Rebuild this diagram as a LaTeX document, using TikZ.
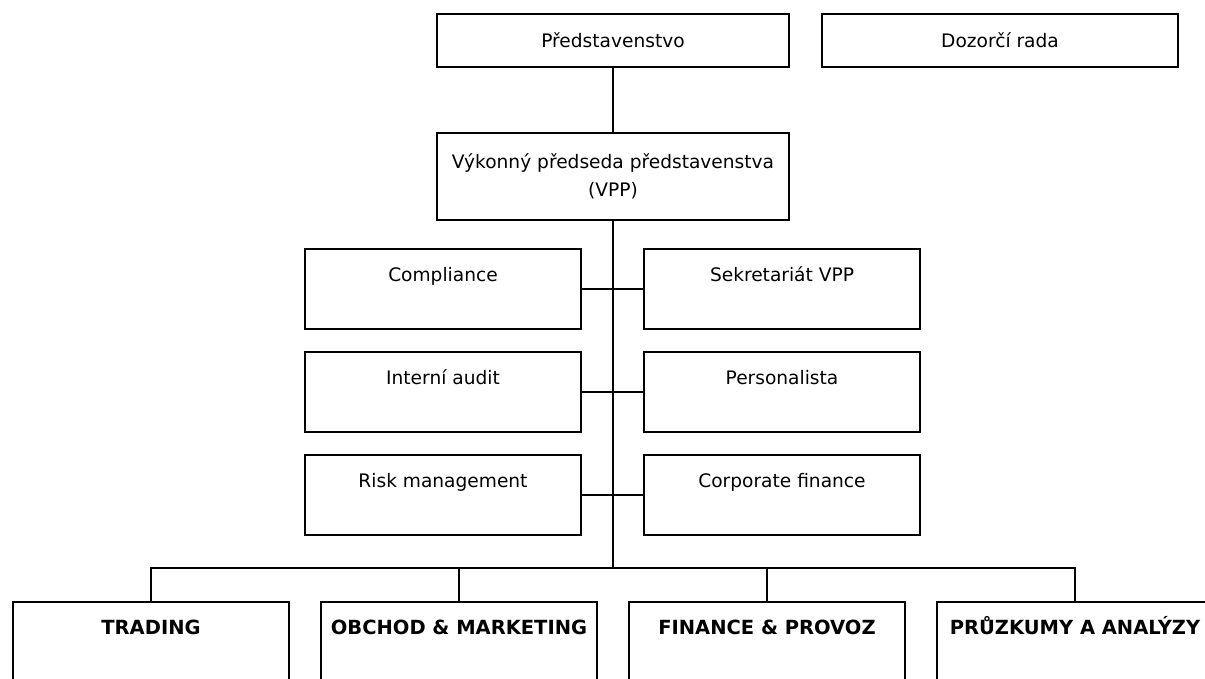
\documentclass[tikz,border=0pt]{standalone}
\usepackage{fontspec}
\setmainfont{DejaVu Sans}

\begin{document}
\begin{tikzpicture}[x=1pt, y=-1pt, line width=2.4pt,
        font=\fontsize{18.6}{28}\selectfont,
        board/.style={draw, inner sep=0pt, align=center},
        staff/.style={draw, inner sep=0pt, anchor=north, minimum width=276pt, text height=32pt, text depth=48pt},
        division/.style={draw, inner sep=0pt, anchor=north, minimum width=276pt, text height=32pt, text depth=70pt, font=\fontsize{19.5}{28}\selectfont\bfseries}]

        \useasboundingbox (0,0) rectangle (1205,679);
        \clip (0,0) rectangle (1205,679);

        \node[board, minimum width=352pt, minimum height=53pt] (pred) at (613,40.5) {Představenstvo};
        \node[board, minimum width=356pt, minimum height=53pt] (dozor) at (1000,40.5) {Dozorčí rada};
        \node[board, minimum width=352pt, minimum height=87pt] (vpp) at (613,176.5) {Výkonný předseda představenstva\\(VPP)};

        \node[staff] (compl) at (443,248) {Compliance};
        \node[staff] (sekr) at (782,248) {Sekretariát VPP};
        \node[staff] (audit) at (443,351) {Interní audit};
        \node[staff] (perso) at (782,351) {Personalista};
        \node[staff] (risk) at (443,454) {Risk management};
        \node[staff] (corp) at (782,454) {Corporate finance};

        \node[division] (trading) at (151,601) {TRADING};
        \node[division] (obchod) at (459,601) {OBCHOD \& MARKETING};
        \node[division] (finance) at (767,601) {FINANCE \& PROVOZ};
        \node[division] (pruzkum) at (1075,601) {PRŮZKUMY A ANALÝZY};

        \coordinate (bus) at (613,568);

        \draw (pred) -- (vpp);
        \draw (vpp) -- (bus);

        \draw (compl) -- (sekr);
        \draw (audit) -- (perso);
        \draw (risk) -- (corp);

        \draw (bus) -| (trading.north);
        \draw (bus) -| (obchod.north);
        \draw (bus) -| (finance.north);
        \draw (bus) -| (pruzkum.north);
    \end{tikzpicture}
\end{document}
